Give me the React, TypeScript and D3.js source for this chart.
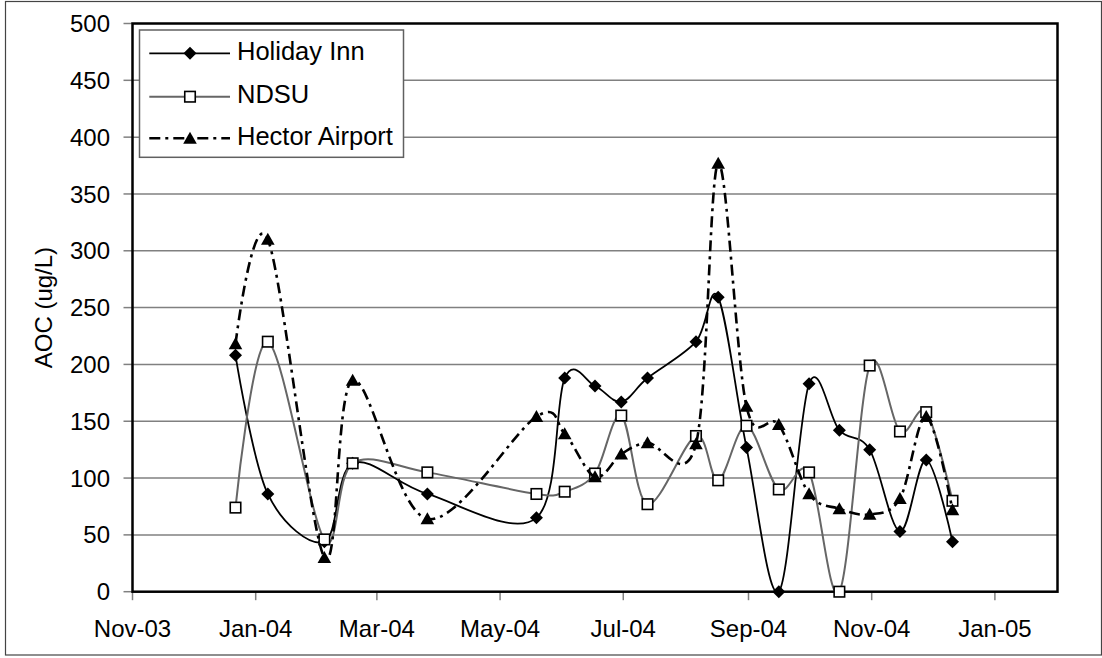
import React from "react";
import * as d3 from "d3";

// ---- data ----
const sampleDates = [
  "2003-12-22", "2004-01-07", "2004-02-04", "2004-02-18", "2004-03-26",
  "2004-05-19", "2004-06-02", "2004-06-17", "2004-06-30", "2004-07-13",
  "2004-08-06", "2004-08-17", "2004-08-31", "2004-09-16", "2004-10-01",
  "2004-10-16", "2004-10-31", "2004-11-15", "2004-11-28", "2004-12-11",
];
const holidayInn = [208, 86, 44, 113, 86, 65, 188, 181, 167, 188, 220, 259, 127, 0, 183, 142, 125, 53, 116, 44];
const ndsu = [74, 220, 46, 113, 105, 86, 88, 104, 155, 77, 137, 98, 146, 90, 105, 0, 199, 141, 158, 80];
const hectorAirport = [218, 310, 30, 186, 64, 154, 139, 101, 121, 131, 130, 377, 163, 147, 86, 73, 68, 82, 154, 72];

const xTickDates = ["2003-11-01", "2004-01-01", "2004-03-01", "2004-05-01", "2004-07-01", "2004-09-01", "2004-11-01", "2005-01-01"];
const yTicks = [0, 50, 100, 150, 200, 250, 300, 350, 400, 450, 500];
const xDomain = ["2003-11-01", "2005-02-01"];
const yTitle = "AOC (ug/L)";
const seriesNames = ["Holiday Inn", "NDSU", "Hector Airport"];

const FONT = "'Liberation Sans', Arial, sans-serif";

const parse = d3.utcParse("%Y-%m-%d");
const fmt = d3.utcFormat("%b-%y");

function Marker({ kind, cx, cy }: { kind: string; cx: number; cy: number }) {
  if (kind === "diamond") {
    const r = 6.5;
    return <path d={`M${cx},${cy - r}L${cx + r},${cy}L${cx},${cy + r}L${cx - r},${cy}Z`} fill="#000" />;
  }
  if (kind === "square") {
    const s = 10.5;
    return <rect x={cx - s / 2} y={cy - s / 2} width={s} height={s} fill="#fff" stroke="#000" strokeWidth={1.6} />;
  }
  const hw = 6.8, h = 12;
  return <path d={`M${cx},${cy - h * 0.55}L${cx + hw},${cy + h * 0.45}L${cx - hw},${cy + h * 0.45}Z`} fill="#000" />;
}

export default function App() {
  const left = 132.5, right = 1057.5, top = 23.5, bottom = 591.7;
  const x = d3.scaleUtc().domain(xDomain.map((s) => parse(s) as Date)).range([left, right]);
  const y = d3.scaleLinear().domain([0, 500]).range([bottom, top]);
  const dts = sampleDates.map((s) => parse(s) as Date);

  const line = d3
    .line<[Date, number]>()
    .x((d) => x(d[0]))
    .y((d) => y(d[1]))
    .curve(d3.curveCatmullRom.alpha(0));

  const series = [
    { name: seriesNames[0], values: holidayInn, marker: "diamond", stroke: "#000", width: 1.8, dash: undefined as string | undefined },
    { name: seriesNames[1], values: ndsu, marker: "square", stroke: "#666", width: 2, dash: undefined },
    { name: seriesNames[2], values: hectorAirport, marker: "triangle", stroke: "#000", width: 2.6, dash: "11,5,3,5" },
  ];

  const xTicks = xTickDates.map((s) => parse(s) as Date);

  return (
    <svg width={1102} height={658} style={{ position: "absolute", left: 0, top: 0, background: "#fff" }} fontFamily={FONT}>
      <rect x={0} y={0} width={1102} height={658} fill="#fff" />
      <rect x={5.5} y={1.5} width={1096} height={653.5} fill="none" stroke="#444" strokeWidth={1.2} />

      {/* gridlines */}
      {yTicks.filter((t) => t > 0 && t < 500).map((t) => (
        <line key={"g" + t} x1={left} x2={right} y1={y(t)} y2={y(t)} stroke="#808080" strokeWidth={1.5} />
      ))}

      {/* y ticks and labels */}
      {yTicks.map((t) => (
        <g key={"y" + t}>
          <line x1={left - 9} x2={left} y1={y(t)} y2={y(t)} stroke="#808080" strokeWidth={1.5} />
          <text x={110} y={y(t) + 8.6} textAnchor="end" fontSize={24} fill="#000">{t}</text>
        </g>
      ))}

      {/* x ticks and labels */}
      {xTicks.map((d, i) => (
        <g key={"x" + i}>
          <line x1={x(d)} x2={x(d)} y1={bottom} y2={bottom + 8.5} stroke="#808080" strokeWidth={1.5} />
          <text x={x(d)} y={636.5} textAnchor="middle" fontSize={24} fill="#000">{fmt(d)}</text>
        </g>
      ))}

      <text transform={`translate(52,${(top + bottom) / 2}) rotate(-90)`} textAnchor="middle" fontSize={24} fill="#000">{yTitle}</text>

      {/* plot border */}
      <rect x={left} y={top} width={right - left} height={bottom - top} fill="none" stroke="#000" strokeWidth={2.5} />

      {/* series */}
      {series.map((s) => (
        <g key={s.name}>
          <path
            d={line(dts.map((d, i) => [d, s.values[i]] as [Date, number])) || ""}
            fill="none"
            stroke={s.stroke}
            strokeWidth={s.width}
            strokeDasharray={s.dash}
          />
          {s.values.map((v, i) => (
            <Marker key={i} kind={s.marker} cx={x(dts[i])} cy={y(v)} />
          ))}
        </g>
      ))}

      {/* legend */}
      <rect x={139.5} y={30} width={264} height={127.3} fill="#fff" stroke="#606060" strokeWidth={1.5} />
      {series.map((s, i) => {
        const ly = [53.3, 96.7, 138.3][i];
        return (
          <g key={"l" + i}>
            <line x1={149.3} x2={230} y1={ly} y2={ly} stroke={s.stroke} strokeWidth={s.width} strokeDasharray={s.dash} />
            <Marker kind={s.marker} cx={190} cy={ly} />
            <text x={237} y={ly + 6.5} fontSize={25.5} fill="#000">{s.name}</text>
          </g>
        );
      })}
    </svg>
  );
}
